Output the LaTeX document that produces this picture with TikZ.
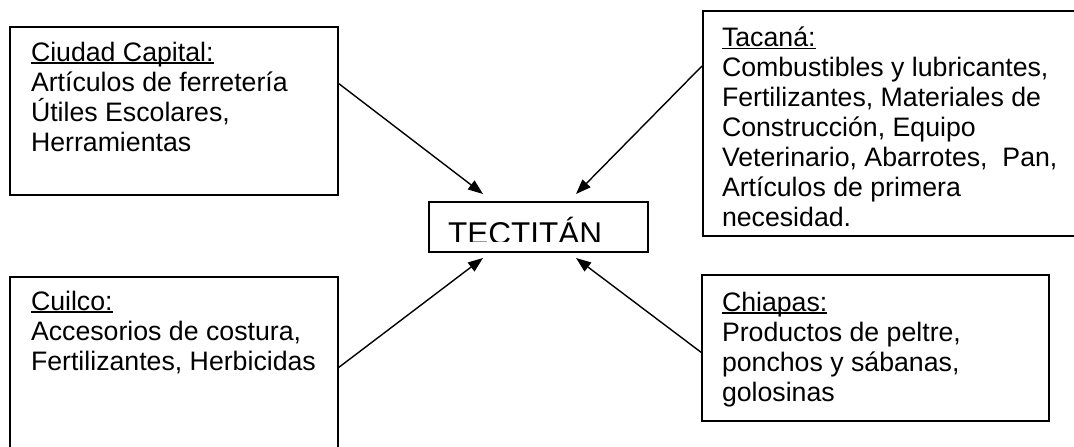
\documentclass[tikz,border=0pt]{standalone}
\usepackage{fontspec}
\setmainfont{Liberation Sans}
\usetikzlibrary{arrows.meta}
\newcommand\myul[1]{\setbox0\hbox{#1}\rlap{\rule[-2.6pt]{\wd0}{1.5pt}}\box0}
\tikzset{
  box/.style={draw=black, line width=2pt, fill=none, inner sep=0pt, outer sep=0pt},
  txt/.style={inner sep=0pt, outer sep=0pt, align=left, anchor=base west,
              font=\fontsize{26.7}{30}\selectfont},
  arr/.style={draw=black, line width=1.4pt, -{Triangle[length=15pt,width=11pt]}}
}
\begin{document}
\begin{tikzpicture}[x=1pt,y=-1pt]
\useasboundingbox (0,0) rectangle (1074,447);
\clip (0,0) rectangle (1074,447);
\fill[white] (0,0) rectangle (1074,447);
% boxes
\node[box, minimum width=328pt, minimum height=168pt] (cc) at (174,111) {};
\node[box, minimum width=390pt, minimum height=225pt] (tac) at (898,123.5) {};
\node[box, minimum width=328pt, minimum height=200pt] (cui) at (174,377) {};
\node[box, minimum width=347pt, minimum height=146pt] (chi) at (875.5,348) {};
\node[box, minimum width=219pt, minimum height=50pt] (tec) at (538.5,227) {};
% texts (anchored at the baseline of the last line)
\node[txt] (cct) at (31,151) {\myul{Ciudad Capital:}\\Artículos de ferretería\\Útiles Escolares,\\Herramientas};
\node[txt] (tact) at (722,226.5) {\myul{Tacaná:}\\Combustibles y lubricantes,\\Fertilizantes, Materiales de\\Construcción, Equipo\\Veterinario, Abarrotes,\ \ Pan,\\Artículos de primera\\necesidad.};
\node[txt] (cuit) at (31,370) {\myul{Cuilco:}\\Accesorios de costura,\\Fertilizantes, Herbicidas};
\node[txt] (chit) at (722,401) {\myul{Chiapas:}\\Productos de peltre,\\ponchos y sábanas,\\golosinas};
\begin{scope}
  \clip (430,203) rectangle (647,241.5);
  \node[inner sep=0pt, anchor=base west, font=\fontsize{31.5}{34}\selectfont] (tect) at (448,244) {TECTITÁN};
\end{scope}
% connector points
\coordinate (s1) at (338,83);
\coordinate (e1) at (483,194);
\coordinate (s2) at (702,66);
\coordinate (e2) at (576,194);
\coordinate (s3) at (338,368);
\coordinate (e3) at (483,258);
\coordinate (s4) at (702,353);
\coordinate (e4) at (576,258);
\draw[arr] (s1) -- (e1);
\draw[arr] (s2) -- (e2);
\draw[arr] (s3) -- (e3);
\draw[arr] (s4) -- (e4);
\end{tikzpicture}
\end{document}
